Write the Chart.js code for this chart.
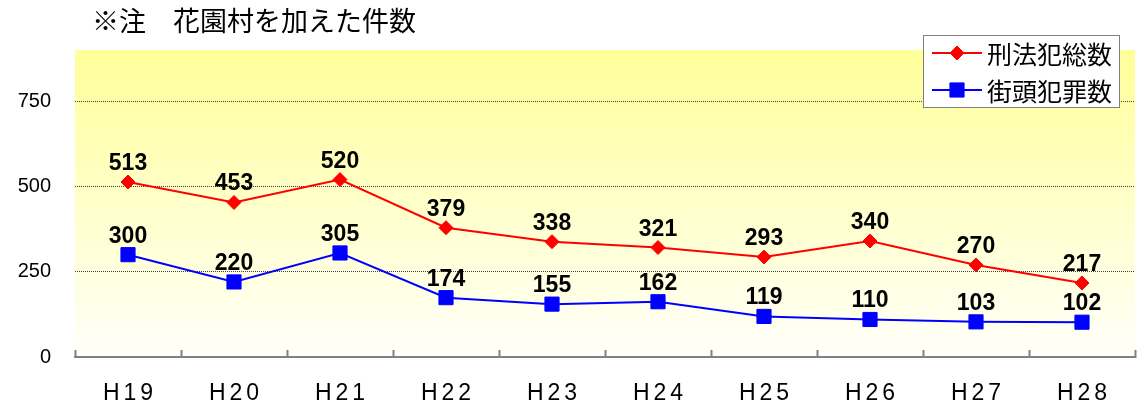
<!DOCTYPE html>
<html><head><meta charset="utf-8">
<script src="https://cdn.jsdelivr.net/npm/chart.js@4"></script>
<style>html,body{margin:0;padding:0;background:#fff}#wrap{width:1146px;height:408px}</style>
</head><body><div id="wrap"><canvas id="c" width="1146" height="408"></canvas></div>
<script>
const categories = ['H19','H20','H21','H22','H23','H24','H25','H26','H27','H28'];
const totalCrimes = [513,453,520,379,338,321,293,340,270,217];
const streetCrimes = [300,220,305,174,155,162,119,110,103,102];
const yTicks = [0,250,500,750];
const titleText = '※注　花園村を加えた件数';
const seriesNames = ['刑法犯総数','街頭犯罪数'];

const bgPlugin = {
  id: 'bg',
  beforeDraw(chart) {
    const {ctx, chartArea: a} = chart;
    const g = ctx.createLinearGradient(0, a.top, 0, a.bottom);
    g.addColorStop(0, '#FFFF99');
    g.addColorStop(1, '#FFFFFA');
    ctx.save();
    ctx.fillStyle = g;
    ctx.fillRect(a.left, a.top, a.right - a.left, a.bottom - a.top);
    ctx.restore();
  }
};

const labelPlugin = {
  id: 'vals',
  afterDatasetsDraw(chart) {
    const ctx = chart.ctx;
    ctx.save();
    ctx.font = 'bold 23px "Liberation Sans", Arial, sans-serif';
    ctx.fillStyle = '#000';
    ctx.textAlign = 'center';
    ctx.textBaseline = 'alphabetic';
    chart.data.datasets.forEach((ds, di) => {
      const meta = chart.getDatasetMeta(di);
      meta.data.forEach((pt, i) => {
        ctx.fillText(String(ds.data[i]), pt.x, pt.y - 12);
      });
    });
    ctx.restore();
  }
};

const decoPlugin = {
  id: 'deco',
  afterDraw(chart) {
    const ctx = chart.ctx;
    const xs = chart.scales.x;
    ctx.save();
    // title
    ctx.font = '27px "Noto Sans CJK JP", sans-serif';
    ctx.fillStyle = '#000';
    ctx.textAlign = 'left';
    ctx.textBaseline = 'middle';
    ctx.fillText(titleText, 92, 21);
    // x labels with letter spacing
    ctx.font = '23px "Liberation Sans", Arial, sans-serif';
    ctx.letterSpacing = '4px';
    ctx.textAlign = 'center';
    ctx.textBaseline = 'alphabetic';
    categories.forEach((c, i) => {
      ctx.fillText(c, xs.getPixelForValue(i) + 2, 400);
    });
    ctx.letterSpacing = '0px';
    // legend
    ctx.fillStyle = '#fff';
    ctx.strokeStyle = '#808080';
    ctx.lineWidth = 1;
    ctx.fillRect(923.5, 35.5, 196, 72);
    ctx.strokeRect(923.5, 35.5, 196, 72);
    chart.data.datasets.forEach((ds, i) => {
      const y = 53 + i * 37;
      ctx.strokeStyle = ds.borderColor;
      ctx.lineWidth = 2;
      ctx.beginPath();
      ctx.moveTo(932, y); ctx.lineTo(982, y);
      ctx.stroke();
      ctx.fillStyle = ds.pointBackgroundColor;
      ctx.strokeStyle = ds.pointBorderColor;
      ctx.lineWidth = 1;
      Chart.helpers.drawPoint(ctx, {pointStyle: ds.pointStyle, radius: ds.pointRadius, borderWidth: 1, rotation: 0}, 957, y);
      ctx.fillStyle = '#000';
      ctx.font = '25px "Noto Sans CJK JP", sans-serif';
      ctx.textAlign = 'left';
      ctx.textBaseline = 'middle';
      ctx.fillText(ds.label, 987, y + 1);
    });
    ctx.restore();
  }
};

new Chart(document.getElementById('c'), {
  type: 'line',
  data: {
    labels: categories,
    datasets: [
      {
        label: seriesNames[0], data: totalCrimes,
        borderColor: '#FF0000', backgroundColor: '#FF0000',
        pointBackgroundColor: '#FF0000', pointBorderColor: '#FF0000',
        borderWidth: 2, pointStyle: 'rectRot', pointRadius: 7, pointBorderWidth: 1,
        tension: 0
      },
      {
        label: seriesNames[1], data: streetCrimes,
        borderColor: '#0000FF', backgroundColor: '#0000FF',
        pointBackgroundColor: '#0000FF', pointBorderColor: '#0000FF',
        borderWidth: 2, pointStyle: 'rect', pointRadius: 10, pointBorderWidth: 1,
        tension: 0
      }
    ]
  },
  options: {
    responsive: false,
    animation: false,
    devicePixelRatio: 1,
    layout: {padding: {top: 50, right: 11, left: 0, bottom: 0}},
    plugins: {legend: {display: false}, title: {display: false}, tooltip: {enabled: false}},
    scales: {
      x: {
        offset: true,
        grid: {display: true, drawOnChartArea: false, drawTicks: true, tickLength: -7, tickColor: '#808080', tickWidth: 2, offset: true},
        border: {display: true, color: '#808080', width: 2},
        ticks: {color: 'rgba(0,0,0,0)', font: {size: 21}},
        afterFit(s) { s.height = 51; }
      },
      y: {
        min: 0, max: 900,
        afterBuildTicks(s) { s.ticks = yTicks.map(v => ({value: v})); },
        grid: {
          drawTicks: false,
          color: ctx => (ctx.tick && ctx.tick.value === 0) ? 'rgba(0,0,0,0)' : '#404040',
          lineWidth: 1
        },
        border: {display: false, dash: [1, 1]},
        ticks: {color: '#000', padding: 24, font: {size: 20, family: '"Liberation Sans", Arial, sans-serif'}},
        afterFit(s) { s.width = 75; }
      }
    }
  },
  plugins: [bgPlugin, labelPlugin, decoPlugin]
});
</script>
</body></html>
